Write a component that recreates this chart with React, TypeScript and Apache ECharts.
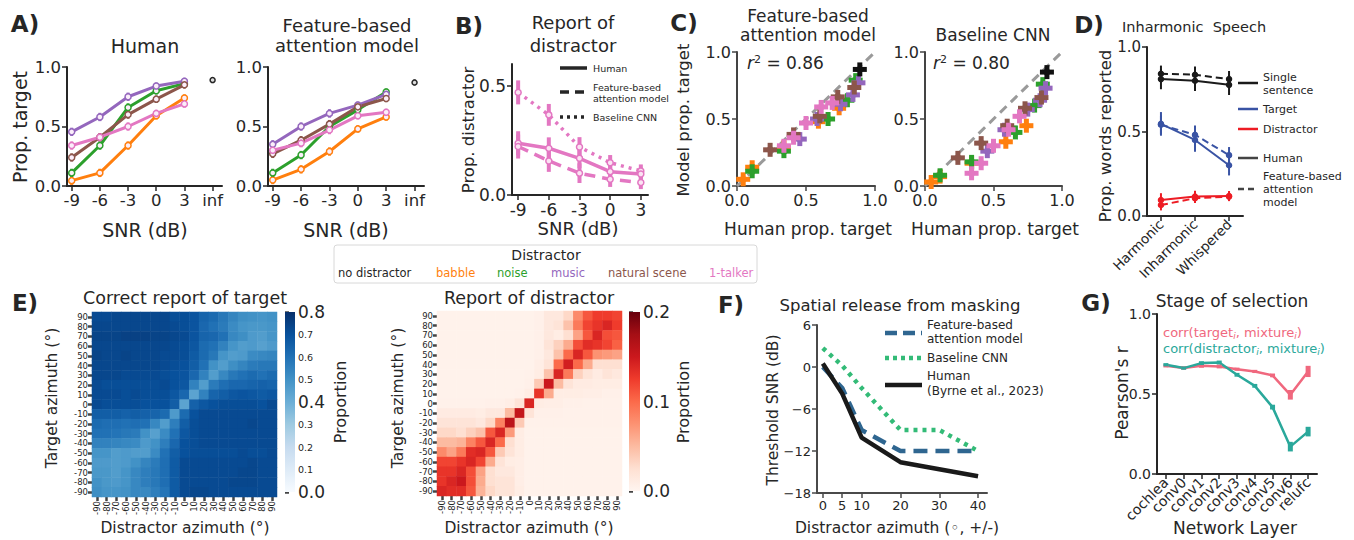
import React, { useEffect, useRef } from "react";
import * as echarts from "echarts";

const FONT = "DejaVu Sans";
const INK = "#262626";

// ---------- Panel A / C data ----------
const snr = [-9, -6, -3, 0, 3];
const INF_X = 6;
const condNames = ["no distractor", "babble", "noise", "music", "natural scene", "1-talker"];
const condColors = ["#262626", "#ff7f0e", "#2ca02c", "#9467bd", "#8c564b", "#e377c2"];

const humanBabble = [0.045, 0.11, 0.34, 0.59, 0.74];
const humanNoise = [0.11, 0.34, 0.66, 0.8, 0.86];
const humanMusic = [0.455, 0.58, 0.75, 0.84, 0.88];
const humanNatural = [0.24, 0.41, 0.6, 0.73, 0.85];
const humanTalker = [0.34, 0.41, 0.5, 0.61, 0.69];
const humanClean = 0.89;

const modelBabble = [0.05, 0.14, 0.29, 0.48, 0.58];
const modelNoise = [0.11, 0.26, 0.5, 0.64, 0.79];
const modelMusic = [0.35, 0.5, 0.61, 0.68, 0.77];
const modelNatural = [0.27, 0.385, 0.52, 0.665, 0.735];
const modelTalker = [0.3, 0.36, 0.47, 0.59, 0.62];
const modelClean = 0.87;

const cnnBabble = [0.03, 0.07, 0.17, 0.33, 0.45];
const cnnNoise = [0.08, 0.18, 0.4, 0.6, 0.76];
const cnnMusic = [0.26, 0.42, 0.57, 0.64, 0.73];
const cnnNatural = [0.21, 0.32, 0.45, 0.58, 0.66];
const cnnTalker = [0.095, 0.17, 0.3, 0.42, 0.52];
const cnnClean = 0.85;

const aErr = [0.035, 0.035, 0.035, 0.03, 0.03];
const cleanErr = 0.025;
const r2Model = "0.86";
const r2Cnn = "0.80";

// ---------- Panel B ----------
const bHuman = [0.237, 0.214, 0.168, 0.107, 0.096];
const bModel = [0.222, 0.156, 0.1, 0.072, 0.057];
const bCnn = [0.47, 0.367, 0.22, 0.148, 0.11];
const bErr = [0.055, 0.05, 0.045, 0.035, 0.03];

// ---------- Panel D ----------
const dConds = ["Harmonic", "Inharmonic", "Whispered"];
const dHumanSingle = [0.81, 0.8, 0.776];
const dModelSingle = [0.842, 0.836, 0.81];
const dHumanTarget = [0.545, 0.45, 0.3];
const dModelTarget = [0.54, 0.48, 0.36];
const dHumanDistr = [0.095, 0.115, 0.118];
const dModelDistr = [0.065, 0.105, 0.115];
const dErrSingle = [0.06, 0.06, 0.06];
const dErrTarget = [0.07, 0.07, 0.06];
const dErrDistr = [0.04, 0.035, 0.03];

// ---------- Panel E ----------
const az = [-90, -80, -70, -60, -50, -40, -30, -20, -10, 0, 10, 20, 30, 40, 50, 60, 70, 80, 90];
// rows: target 90 (top) ... -90 (bottom); cols: distractor -90 ... 90
const targetCorrect = [
  [.72, .72, .73, .73, .73, .73, .73, .73, .71, .71, .69, .64, .62, .58, .54, .51, .50, .49, .50],
  [.73, .73, .73, .73, .73, .73, .73, .73, .72, .71, .69, .63, .60, .57, .52, .49, .48, .48, .49],
  [.74, .74, .74, .75, .75, .75, .74, .74, .73, .72, .69, .64, .63, .60, .53, .51, .47, .46, .49],
  [.73, .73, .73, .73, .73, .73, .73, .73, .72, .71, .68, .62, .60, .55, .49, .46, .47, .45, .47],
  [.74, .73, .73, .74, .73, .73, .73, .72, .72, .71, .67, .62, .58, .49, .46, .47, .52, .53, .54],
  [.73, .73, .73, .73, .73, .73, .73, .72, .71, .70, .66, .60, .50, .46, .51, .54, .57, .58, .58],
  [.73, .73, .73, .72, .72, .72, .72, .71, .70, .69, .63, .55, .46, .53, .58, .60, .62, .60, .62],
  [.72, .71, .71, .71, .71, .71, .71, .72, .70, .68, .55, .46, .57, .61, .63, .63, .64, .65, .64],
  [.72, .72, .72, .71, .72, .71, .71, .71, .68, .63, .44, .55, .64, .66, .68, .69, .68, .67, .68],
  [.72, .71, .71, .71, .71, .70, .70, .70, .66, .44, .65, .68, .70, .71, .71, .71, .71, .70, .72],
  [.66, .66, .66, .65, .66, .65, .64, .62, .47, .62, .70, .72, .72, .72, .72, .72, .72, .72, .72],
  [.62, .61, .61, .60, .61, .60, .53, .46, .56, .66, .71, .72, .72, .72, .72, .72, .73, .72, .72],
  [.60, .60, .59, .58, .57, .50, .45, .52, .60, .68, .71, .72, .72, .72, .72, .72, .72, .72, .72],
  [.55, .55, .54, .53, .52, .47, .50, .56, .63, .70, .71, .72, .72, .72, .72, .72, .72, .72, .72],
  [.49, .49, .46, .47, .46, .46, .52, .60, .66, .70, .71, .71, .71, .71, .71, .72, .71, .71, .72],
  [.47, .47, .46, .47, .50, .54, .57, .61, .67, .72, .72, .72, .72, .72, .72, .72, .73, .72, .72],
  [.48, .48, .46, .49, .53, .56, .58, .61, .67, .72, .72, .72, .72, .72, .72, .73, .73, .72, .72],
  [.50, .48, .47, .49, .53, .56, .58, .61, .67, .72, .72, .72, .72, .72, .73, .73, .73, .72, .72],
  [.51, .49, .49, .50, .53, .53, .56, .59, .67, .72, .73, .73, .72, .72, .72, .72, .72, .72, .72],
];
const distractorReport = [
  [.004, .004, .004, .004, .004, .004, .004, .004, .004, .004, .006, .015, .015, .03, .08, .11, .125, .125, .12],
  [.004, .004, .004, .004, .004, .004, .004, .004, .004, .004, .006, .015, .02, .045, .09, .12, .13, .14, .125],
  [.004, .004, .004, .004, .004, .004, .004, .004, .004, .004, .006, .015, .01, .025, .065, .11, .14, .115, .11],
  [.004, .004, .004, .004, .004, .004, .004, .004, .004, .004, .006, .02, .035, .06, .115, .135, .13, .12, .105],
  [.004, .004, .004, .004, .004, .004, .004, .004, .004, .004, .006, .015, .045, .10, .14, .11, .075, .07, .065],
  [.004, .004, .004, .004, .004, .004, .004, .004, .004, .004, .008, .02, .10, .145, .10, .06, .025, .025, .025],
  [.004, .004, .004, .004, .004, .004, .004, .004, .004, .005, .01, .045, .14, .09, .035, .02, .012, .02, .015],
  [.004, .004, .004, .004, .004, .004, .004, .004, .004, .006, .04, .15, .05, .02, .012, .012, .01, .01, .01],
  [.004, .004, .004, .004, .004, .004, .004, .004, .005, .01, .13, .06, .01, .01, .01, .008, .008, .006, .006],
  [.005, .005, .005, .005, .005, .006, .006, .008, .02, .14, .01, .008, .008, .006, .006, .005, .005, .005, .005],
  [.012, .012, .012, .012, .01, .015, .015, .05, .155, .02, .006, .006, .006, .005, .005, .005, .005, .005, .005],
  [.02, .02, .02, .02, .015, .03, .085, .16, .04, .005, .005, .005, .005, .005, .005, .005, .005, .005, .005],
  [.03, .03, .025, .035, .045, .11, .14, .07, .01, .004, .004, .004, .004, .004, .004, .004, .004, .004, .004],
  [.05, .05, .055, .085, .11, .14, .10, .025, .01, .004, .004, .004, .004, .004, .004, .004, .004, .004, .004],
  [.08, .065, .09, .135, .14, .11, .04, .02, .01, .004, .004, .004, .004, .004, .004, .004, .004, .004, .004],
  [.12, .12, .13, .14, .12, .06, .02, .01, .008, .004, .004, .004, .004, .004, .004, .004, .004, .004, .004],
  [.13, .13, .14, .115, .065, .025, .015, .015, .008, .004, .004, .004, .004, .004, .004, .004, .004, .004, .004],
  [.13, .14, .15, .115, .06, .025, .02, .02, .008, .004, .004, .004, .004, .004, .004, .004, .004, .004, .004],
  [.14, .135, .135, .11, .055, .03, .02, .02, .01, .004, .004, .004, .004, .004, .004, .004, .004, .004, .004],
];
const BLUES = ["#f7fbff", "#deebf7", "#c6dbef", "#9ecae1", "#6baed6", "#4292c6", "#2171b5", "#08519c", "#08306b"];
const REDS = ["#fff5f0", "#fee0d2", "#fcbba1", "#fc9272", "#fb6a4a", "#ef3b2c", "#cb181d", "#a50f15", "#67000d"];

// ---------- Panel F ----------
const fAz = [0, 5, 10, 20, 30, 40];
const fHuman = [0.5, -3.8, -10.1, -13.6, -14.6, -15.6];
const fModel = [0, -3, -9, -12, -12, -12];
const fCnn = [2.7, 0.2, -3, -9, -9, -12];

// ---------- Panel G ----------
const gLayers = ["cochlea", "conv0", "conv1", "conv2", "conv3", "conv4", "conv5", "conv6", "relufc"];
const gTarget = [0.676, 0.662, 0.676, 0.672, 0.655, 0.641, 0.616, 0.495, 0.641];
const gDistr = [0.683, 0.662, 0.693, 0.697, 0.62, 0.551, 0.418, 0.171, 0.265];
const gTargetErr = [0.01, 0.01, 0.012, 0.012, 0.01, 0.01, 0.012, 0.03, 0.035];
const gDistrErr = [0.01, 0.01, 0.012, 0.012, 0.012, 0.012, 0.015, 0.03, 0.03];

function vAxis(min: number, max: number, o: any = {}) {
  const axisTick: any = { show: true, length: o.tickLen ?? 5, lineStyle: { color: o.lineColor || INK, width: o.tickWidth || 1.5 } };
  const axisLabel: any = {
    show: true, color: INK, fontSize: o.fs || 15, fontFamily: FONT, margin: o.margin ?? 6, rotate: o.rotate || 0,
  };
  if (o.ticks) { axisTick.customValues = o.ticks; axisLabel.customValues = o.ticks; }
  if (o.fmt) axisLabel.formatter = o.fmt;
  const a: any = {
    type: "value", min, max,
    axisLine: { show: o.line !== false, onZero: false, lineStyle: { color: o.lineColor || INK, width: o.lineWidth || 2 } },
    axisTick, axisLabel, splitLine: { show: false },
  };
  if (o.interval) a.interval = o.interval;
  return a;
}

function buildOption() {
  const grid: any[] = [], xAxis: any[] = [], yAxis: any[] = [], series: any[] = [], graphic: any[] = [];
  const add = (b: number[], xa: any, ya: any) => {
    const i = grid.length;
    grid.push({ left: b[0], top: b[1], width: b[2], height: b[3] });
    xAxis.push({ gridIndex: i, ...xa });
    yAxis.push({ gridIndex: i, ...ya });
    return i;
  };
  const fmt1 = (v: number) => v.toFixed(1);

  const errSeries = (gi: number, pts: any[][], color: string, width: number, z = 3) => ({
    type: "custom", xAxisIndex: gi, yAxisIndex: gi, data: pts, silent: true, z, clip: false,
    renderItem: (_p: any, api: any) => {
      const a = api.coord([api.value(0), api.value(1)]);
      const b = api.coord([api.value(0), api.value(2)]);
      return { type: "line", shape: { x1: a[0], y1: a[1], x2: b[0], y2: b[1] }, style: { stroke: color, lineWidth: width } };
    },
  });
  const lineSeries = (gi: number, xs: any[], ys: number[], color: string, width: number, dash: any, sym = "none", symSize = 5, symFill = "#fff") => ({
    type: "line", xAxisIndex: gi, yAxisIndex: gi, data: xs.map((x, i) => [x, ys[i]]), silent: true, animation: false,
    symbol: sym, symbolSize: symSize, showSymbol: sym !== "none",
    lineStyle: { color, width, type: dash }, itemStyle: { color: symFill, borderColor: color, borderWidth: 1.5 },
    z: 4,
  });
  const plusSeries = (gi: number, pts: number[][], color: string) => ({
    type: "custom", xAxisIndex: gi, yAxisIndex: gi, data: pts, silent: true, clip: false, z: 5,
    renderItem: (_p: any, api: any) => {
      const p = api.coord([api.value(0), api.value(1)]);
      return {
        type: "group", children: [
          { type: "rect", shape: { x: p[0] - 7, y: p[1] - 2.5, width: 14, height: 5 }, style: { fill: color } },
          { type: "rect", shape: { x: p[0] - 2.5, y: p[1] - 7, width: 5, height: 14 }, style: { fill: color } },
          { type: "circle", shape: { cx: p[0], cy: p[1], r: 3.5 }, style: { fill: color } },
        ],
      };
    },
  });

  const T = (text: string, x: number, y: number, size: number, o: any = {}) => ({
    type: "text", x, y, rotation: o.rot || 0, silent: true, z: 100,
    style: {
      text, fontSize: size, fontFamily: FONT, fontWeight: o.bold ? "bold" : "normal", fill: o.color || INK,
      align: o.align || "center", verticalAlign: o.va || "middle", rich: o.rich,
    },
  });
  const L = (x1: number, y1: number, x2: number, y2: number, stroke: string, w: number, dash?: any) => ({
    type: "line", silent: true, z: 100, shape: { x1, y1, x2, y2 }, style: { stroke, lineWidth: w, lineDash: dash },
  });
  const R = Math.PI / 2;

  // ----- Panel A -----
  const humanSets = [humanBabble, humanNoise, humanMusic, humanNatural, humanTalker];
  const modelSets = [modelBabble, modelNoise, modelMusic, modelNatural, modelTalker];
  const cnnSets = [cnnBabble, cnnNoise, cnnMusic, cnnNatural, cnnTalker];
  const aXAxis = () => vAxis(-9.5, 7, { ticks: [...snr, INF_X], fmt: (v: number) => (v === INF_X ? "inf" : String(v)), fs: 16.5 });
  const aYAxis = () => vAxis(0, 1, { interval: 0.5, fmt: fmt1, fs: 16.5 });
  const aPanels: [number[], number[][], number][] = [
    [[67, 67, 155, 119], humanSets, humanClean],
    [[268, 67, 156, 119], modelSets, modelClean],
  ];
  aPanels.forEach(([box, sets, clean]) => {
    const gi = add(box, aXAxis(), aYAxis());
    sets.forEach((ys, c) => {
      const col = condColors[c + 1];
      series.push(errSeries(gi, snr.map((x, i) => [x, ys[i] - aErr[i], ys[i] + aErr[i]]), col, 3));
      series.push(lineSeries(gi, snr, ys, col, 3, "solid", "circle", 6, "#fbeefa"));
    });
    series.push(errSeries(gi, [[INF_X, clean - cleanErr, clean + cleanErr]], INK, 2.5));
    series.push(lineSeries(gi, [INF_X], [clean], INK, 2, "solid", "circle", 5, "#ddd"));
  });

  // ----- Panel B -----
  {
    const gi = add([512, 64, 136, 131], vAxis(-9.6, 3.7, { ticks: snr, fs: 17 }), vAxis(0, 0.6, { ticks: [0, 0.5], fmt: fmt1, fs: 17 }));
    const pink = "#e377c2";
    [bCnn, bHuman, bModel].forEach((ys, k) => {
      series.push(errSeries(gi, snr.map((x, i) => [x, ys[i] - bErr[i], ys[i] + bErr[i]]), pink, 4));
      series.push(lineSeries(gi, snr, ys, pink, 3.5, k === 0 ? [3, 5] : k === 1 ? "solid" : [11, 7], "circle", 6, "#fbe3f3"));
    });
    graphic.push(L(560, 68, 587, 68, INK, 3.5));
    graphic.push(L(560, 92, 587, 92, INK, 3.5, [9, 6]));
    graphic.push(L(560, 117, 587, 117, INK, 3.5, [3, 4]));
    graphic.push(T("Human", 593, 68, 9.5, { align: "left" }));
    graphic.push(T("Feature-based", 593, 87, 9.5, { align: "left" }));
    graphic.push(T("attention model", 593, 98, 9.5, { align: "left" }));
    graphic.push(T("Baseline CNN", 593, 117, 9.5, { align: "left" }));
  }

  // ----- Panel C -----
  const cPanels: [number[], number[][], number][] = [
    [[737, 52, 138, 134], modelSets, modelClean],
    [[925, 52, 137, 134], cnnSets, cnnClean],
  ];
  cPanels.forEach(([box, sets, clean]) => {
    const gi = add(box, vAxis(0, 1, { interval: 0.5, fmt: fmt1, fs: 16, lineColor: "#444" }), vAxis(0, 1, { interval: 0.5, fmt: fmt1, fs: 16, lineColor: "#444" }));
    series.push({ ...lineSeries(gi, [0, 1], [0, 1], "#9a9a9a", 3, [9, 6]), z: 2 });
    sets.forEach((ys, c) => {
      series.push(plusSeries(gi, humanSets[c].map((h, i) => [h, ys[i]]), condColors[c + 1]));
    });
    series.push(plusSeries(gi, [[humanClean, clean]], "#111"));
  });

  // ----- Panel D -----
  {
    const gi = add([1147, 47, 96, 169],
      vAxis(-0.41, 2.41, { ticks: [0, 1, 2], fmt: (v: number) => dConds[v], rotate: 45, fs: 13.5 }),
      vAxis(0, 1, { interval: 0.5, fmt: fmt1, fs: 15 }));
    const xs = [0, 1, 2];
    const groups: [number[], number[], number[], string][] = [
      [dHumanSingle, dModelSingle, dErrSingle, "#1a1a1a"],
      [dHumanTarget, dModelTarget, dErrTarget, "#3953a4"],
      [dHumanDistr, dModelDistr, dErrDistr, "#ed1c24"],
    ];
    groups.forEach(([h, m, e, col]) => {
      series.push(errSeries(gi, xs.map((x, i) => [x, h[i] - e[i], h[i] + e[i]]), col, 2));
      series.push(errSeries(gi, xs.map((x, i) => [x, m[i] - e[i] * 0.8, m[i] + e[i] * 0.8]), col, 2));
      series.push(lineSeries(gi, xs, h, col, 2, "solid", "circle", 5, col));
      series.push(lineSeries(gi, xs, m, col, 2, [7, 4], "circle", 5, col));
    });
    graphic.push(L(1238, 83, 1258, 83, "#1a1a1a", 2.5));
    graphic.push(L(1238, 109, 1258, 109, "#3953a4", 2.5));
    graphic.push(L(1238, 129, 1258, 129, "#ed1c24", 2.5));
    graphic.push(L(1238, 158, 1258, 158, "#444", 2.5));
    graphic.push(L(1238, 189, 1258, 189, "#444", 2.5, [6, 4]));
    graphic.push(T("Single", 1263, 77, 11, { align: "left" }));
    graphic.push(T("sentence", 1263, 90, 11, { align: "left" }));
    graphic.push(T("Target", 1263, 109, 11, { align: "left" }));
    graphic.push(T("Distractor", 1263, 129, 11, { align: "left" }));
    graphic.push(T("Human", 1263, 158, 11, { align: "left" }));
    graphic.push(T("Feature-based", 1263, 176, 11, { align: "left" }));
    graphic.push(T("attention", 1263, 189, 11, { align: "left" }));
    graphic.push(T("model", 1263, 202, 11, { align: "left" }));
  }

  // ----- Panel E heatmaps -----
  const heat = (m: number[][]) => {
    const d: number[][] = [];
    m.forEach((row, r) => row.forEach((v, c) => d.push([c, az.length - 1 - r, v])));
    return d;
  };
  const catAxis = (rot: number) => ({
    type: "category", data: az.map(String),
    axisLine: { show: false },
    axisTick: { show: true, length: 4, interval: 0, alignWithLabel: true, lineStyle: { color: "#444", width: 2.5 } },
    axisLabel: { interval: 0, rotate: rot, fontSize: 8.5, color: INK, fontFamily: FONT, margin: 4 },
    splitLine: { show: false }, splitArea: { show: false },
  });
  const heatIdx: number[] = [];
  const heatPanels: [number[], number[][], number[], number, number, number[], string[]][] = [
    [[92, 312, 185, 185], targetCorrect, [285, 312, 10, 180], 0.8, 0.1, [0, 0.4, 0.8], BLUES],
    [[437, 311, 185, 185], distractorReport, [629, 312, 11, 179], 0.2, 0.05, [0, 0.1, 0.2], REDS],
  ];
  heatPanels.forEach(([box, m, cbBox, vmax, step, big, colors]) => {
    const gi = add(box, catAxis(90), catAxis(0));
    heatIdx.push(series.length);
    series.push({ type: "heatmap", xAxisIndex: gi, yAxisIndex: gi, data: heat(m), silent: true, itemStyle: { borderWidth: 0 } });
    const cb = add(cbBox, { type: "value", min: 0, max: 1, show: false },
      {
        type: "value", min: 0, max: vmax, interval: step, position: "right",
        axisLine: { show: false },
        axisTick: { show: true, length: 4, lineStyle: { color: "#444", width: 2.5 } },
        axisLabel: {
          margin: 3, color: INK, fontFamily: FONT,
          formatter: (v: number) => {
            const isBig = big.some((b) => Math.abs(b - v) < 1e-6);
            if (vmax < 0.5) return isBig ? `{b|${v.toFixed(1)}}` : "";
            return isBig ? `{b|${v.toFixed(1)}}` : `{s|${v.toFixed(1)}}`;
          },
          rich: { b: { fontSize: 17, fontFamily: FONT, color: INK }, s: { fontSize: 9.5, fontFamily: FONT, color: INK } },
        },
        splitLine: { show: false },
      });
    series.push({
      type: "custom", xAxisIndex: cb, yAxisIndex: cb, data: [[0, 0, 1, vmax]], silent: true,
      renderItem: (_p: any, api: any) => {
        const a = api.coord([0, 0]);
        const b = api.coord([1, vmax]);
        return {
          type: "rect", shape: { x: a[0], y: b[1], width: b[0] - a[0], height: a[1] - b[1] },
          style: { fill: { type: "linear", x: 0, y: 1, x2: 0, y2: 0, colorStops: colors.map((c, i) => ({ offset: i / (colors.length - 1), color: c })) } },
        };
      },
    });
  });

  // ----- Panel F -----
  {
    const gi = add([817, 325, 170, 168],
      vAxis(-1.5, 42.3, { ticks: fAz, fs: 13, lineColor: "#4a4a4a" }),
      vAxis(-18, 6, { interval: 6, fmt: (v: number) => (v < 0 ? "\u2212" + -v : String(v)), fs: 13, lineColor: "#4a4a4a" }));
    series.push(lineSeries(gi, fAz, fModel, "#2f6690", 4.5, [14, 8]));
    series.push(lineSeries(gi, fAz, fCnn, "#33bb77", 4.5, [4, 5]));
    series.push(lineSeries(gi, fAz, fHuman, "#1a1a1a", 4.5, "solid"));
    graphic.push(L(885, 333, 922, 333, "#2f6690", 4.5, [12, 6]));
    graphic.push(L(885, 358, 922, 358, "#33bb77", 4.5, [4, 4]));
    graphic.push(L(885, 385, 922, 385, "#1a1a1a", 4.5));
    graphic.push(T("Feature-based", 927, 325, 12, { align: "left" }));
    graphic.push(T("attention model", 927, 339, 12, { align: "left" }));
    graphic.push(T("Baseline CNN", 927, 358, 12, { align: "left" }));
    graphic.push(T("Human", 927, 376, 12, { align: "left" }));
    graphic.push(T("(Byrne et al., 2023)", 927, 391, 12, { align: "left" }));
  }

  // ----- Panel G -----
  {
    const xs = gLayers.map((_, i) => i);
    const gi = add([1157, 314, 160, 160],
      {
        type: "category", data: gLayers, boundaryGap: true,
        axisLine: { show: true, onZero: false, lineStyle: { color: INK, width: 2 } },
        axisTick: { show: true, length: 5, interval: 0, alignWithLabel: true, lineStyle: { color: INK, width: 1.5 } },
        axisLabel: { interval: 0, rotate: 45, fontSize: 14, color: INK, fontFamily: FONT, margin: 6 },
        splitLine: { show: false },
      },
      vAxis(0, 1, { interval: 0.5, fmt: fmt1, fs: 14 }));
    const pinkG = "#f0687e", tealG = "#2aa89b";
    series.push(lineSeries(gi, xs, gTarget, pinkG, 2.5, "solid"));
    series.push(lineSeries(gi, xs, gDistr, tealG, 2.5, "solid"));
    series.push(errSeries(gi, xs.map((x, i) => [x, gTarget[i] - gTargetErr[i], gTarget[i] + gTargetErr[i]]), pinkG, 5, 5));
    series.push(errSeries(gi, xs.map((x, i) => [x, gDistr[i] - gDistrErr[i], gDistr[i] + gDistrErr[i]]), tealG, 5, 5));
    const sub = { fontSize: 9, fontStyle: "italic", fontFamily: FONT, padding: [7, 0, 0, 0] };
    graphic.push(T("{p|corr(target}{pi|i}{p|, mixture}{pi|i}{p|)}", 1163, 332, 13, {
      align: "left", color: pinkG, rich: { p: { fontSize: 13, fontFamily: FONT, fill: pinkG, color: pinkG }, pi: { ...sub, fill: pinkG, color: pinkG } },
    }));
    graphic.push(T("{p|corr(distractor}{pi|i}{p|, mixture}{pi|i}{p|)}", 1163, 348, 13, {
      align: "left", color: tealG, rich: { p: { fontSize: 13, fontFamily: FONT, fill: tealG, color: tealG }, pi: { ...sub, fill: tealG, color: tealG } },
    }));
  }

  // ----- Texts -----
  graphic.push(T("A)", 25, 24, 23, { bold: true }));
  graphic.push(T("Human", 145, 46, 19));
  graphic.push(T("Feature-based", 347, 25, 18));
  graphic.push(T("attention model", 347, 45, 18));
  graphic.push(T("Prop. target", 20, 127, 19, { rot: R }));
  graphic.push(T("SNR (dB)", 145, 230, 19));
  graphic.push(T("SNR (dB)", 346, 230, 19));

  graphic.push(T("B)", 469, 26, 23, { bold: true }));
  graphic.push(T("Report of", 573, 22, 18));
  graphic.push(T("distractor", 573, 45, 18));
  graphic.push(T("Prop. distractor", 468, 130, 16.5, { rot: R }));
  graphic.push(T("SNR (dB)", 578, 228, 18));

  graphic.push(T("C)", 684, 23, 23, { bold: true }));
  graphic.push(T("Feature-based", 808, 16, 17));
  graphic.push(T("attention model", 808, 35, 17));
  graphic.push(T("Baseline CNN", 993, 35, 17));
  graphic.push(T("Model prop. target", 683, 120, 16.5, { rot: R }));
  graphic.push(T("Human prop. target", 808, 229, 17));
  graphic.push(T("Human prop. target", 995, 229, 17));
  const r2rich = { i: { fontSize: 17, fontStyle: "italic", fontFamily: FONT, color: INK }, sup: { fontSize: 11, fontFamily: FONT, color: INK, padding: [0, 0, 8, 0] }, t: { fontSize: 17, fontFamily: FONT, color: INK } };
  graphic.push(T(`{i|r}{sup|2}{t| = ${r2Model}}`, 747, 63, 17, { align: "left", rich: r2rich }));
  graphic.push(T(`{i|r}{sup|2}{t| = ${r2Cnn}}`, 933, 63, 17, { align: "left", rich: r2rich }));

  graphic.push(T("D)", 1089, 25, 23, { bold: true }));
  graphic.push(T("Inharmonic  Speech", 1122, 27, 14.5, { align: "left" }));
  graphic.push(T("Prop. words reported", 1105, 136, 16.5, { rot: R }));

  // legend box
  graphic.push({ type: "rect", silent: true, z: 90, shape: { x: 334, y: 245, width: 423, height: 38, r: 3 }, style: { fill: "#fff", stroke: "#d8d8d8", lineWidth: 1 } });
  graphic.push(T("Distractor", 546, 255, 14));
  const legX = [338, 436, 497, 551, 608, 709];
  condNames.forEach((n, i) => graphic.push(T(n, legX[i], 273, 11.5, { align: "left", color: condColors[i] })));

  graphic.push(T("E)", 25, 303, 23, { bold: true }));
  graphic.push(T("Correct report of target", 185, 298, 17.5));
  graphic.push(T("Report of distractor", 529, 298, 17.5));
  graphic.push(T("Target azimuth (°)", 52, 398, 15.5, { rot: R }));
  graphic.push(T("Target azimuth (°)", 398, 398, 15.5, { rot: R }));
  graphic.push(T("Distractor azimuth (°)", 185, 528, 15.5));
  graphic.push(T("Distractor azimuth (°)", 529, 528, 15.5));
  graphic.push(T("Proportion", 340, 402, 16, { rot: R }));
  graphic.push(T("Proportion", 683, 402, 16, { rot: R }));

  graphic.push(T("F)", 731, 305, 23, { bold: true }));
  graphic.push(T("Spatial release from masking", 900, 305, 16.5));
  graphic.push(T("Threshold SNR (dB)", 773, 410, 15.5, { rot: R }));
  graphic.push(T("Distractor azimuth (\u25E6, +/-)", 897, 528, 15.5));

  graphic.push(T("G)", 1096, 303, 23, { bold: true }));
  graphic.push(T("Stage of selection", 1232, 301, 17));
  graphic.push(T("Pearson's r", 1122, 393, 17, { rot: R }));
  graphic.push(T("Network Layer", 1235, 528, 17));

  return {
    animation: false,
    backgroundColor: "#fff",
    textStyle: { fontFamily: FONT },
    grid, xAxis, yAxis, series, graphic,
    visualMap: [
      { type: "continuous", show: false, seriesIndex: heatIdx[0], dimension: 2, min: 0, max: 0.8, inRange: { color: BLUES } },
      { type: "continuous", show: false, seriesIndex: heatIdx[1], dimension: 2, min: 0, max: 0.2, inRange: { color: REDS } },
    ],
  };
}

export default function App() {
  const ref = useRef<HTMLDivElement>(null);
  useEffect(() => {
    const chart = echarts.init(ref.current as HTMLDivElement, null, { renderer: "svg" });
    chart.setOption(buildOption() as any);
    return () => chart.dispose();
  }, []);
  return <div ref={ref} style={{ position: "fixed", left: 0, top: 0, width: 1354, height: 540, background: "#fff" }} />;
}
